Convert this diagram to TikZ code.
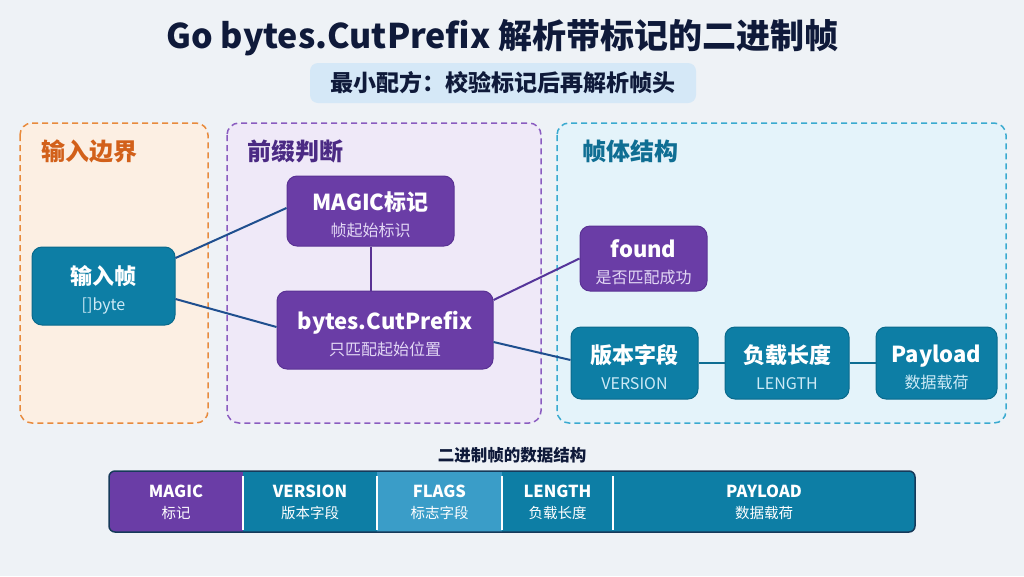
\documentclass[tikz,border=0pt]{standalone}
\usepackage{fontspec}
\setmainfont{Noto Sans CJK SC}
\usetikzlibrary{calc}
\definecolor{bgc}{HTML}{EEF2F6}
\definecolor{titlec}{HTML}{0F1A3A}
\definecolor{subbg}{HTML}{D5E8F7}
\definecolor{paF}{HTML}{FCEFE3}
\definecolor{paD}{HTML}{E88A3C}
\definecolor{paT}{HTML}{D2601A}
\definecolor{pbF}{HTML}{EFE9F8}
\definecolor{pbD}{HTML}{8A5CC0}
\definecolor{pbT}{HTML}{4B2A84}
\definecolor{pcF}{HTML}{E4F3FA}
\definecolor{pcD}{HTML}{3AAAD0}
\definecolor{pcT}{HTML}{0F6E93}
\definecolor{tealF}{HTML}{0D7EA5}
\definecolor{tealD}{HTML}{0A6A8C}
\definecolor{tealS}{HTML}{CDEAF6}
\definecolor{purF}{HTML}{6A3DA6}
\definecolor{purD}{HTML}{5A3294}
\definecolor{purS}{HTML}{E3D8F5}
\definecolor{flagF}{HTML}{3A9DC8}
\definecolor{navyL}{HTML}{1F4F8F}
\definecolor{purL}{HTML}{55359A}
\definecolor{tealL}{HTML}{0E6D92}
\definecolor{frameC}{HTML}{163A5A}
\newcommand\nttl[1]{{\fontsize{22}{26}\selectfont\bfseries #1}}
\tikzset{
  panel/.style={line width=1.5, dash pattern=on 6pt off 4pt, rounded corners=12},
  ptitle/.style={anchor=west, font=\fontsize{24}{28}\selectfont\bfseries, inner sep=0},
  ntext/.style={inner sep=0, align=center, text=white, font=\fontsize{16}{26}\selectfont, yshift=-4},
  tnode/.style={rounded corners=10, fill=tealF, draw=tealD, line width=1, inner sep=0},
  pnode/.style={rounded corners=10, fill=purF, draw=purD, line width=1, inner sep=0},
  conn/.style={line width=2},
  seg/.style={inner sep=0, minimum height=61, align=center, text=white,
    font=\fontsize{14.5}{21}\selectfont},
}
\newcommand\sttl[1]{{\fontsize{16.5}{21}\selectfont\bfseries #1}}
\begin{document}
\begin{tikzpicture}[x=1pt,y=-1pt]
\useasboundingbox (0,0) rectangle (1024,576);
\fill[bgc] (0,0) rectangle (1024,576);

% title
\node[text=titlec, font=\fontsize{34}{40}\selectfont\bfseries, inner sep=0] (title) at (502.5,38) {Go bytes.CutPrefix 解析带标记的二进制帧};
\node[fill=subbg, rounded corners=8, minimum width=386, minimum height=40, inner sep=0,
  text=titlec, font=\fontsize{23}{26}\selectfont\bfseries] (sub) at (503,83) {最小配方：校验标记后再解析帧头};

% panels
\draw[panel, draw=paD, fill=paF] (20,123) rectangle (208,423);
\draw[panel, draw=pbD, fill=pbF] (227,123) rectangle (541,423);
\draw[panel, draw=pcD, fill=pcF] (557,123) rectangle (1006,423);
\node[ptitle, text=paT] (ta) at (41,151) {输入边界};
\node[ptitle, text=pbT] (tb) at (247,151) {前缀判断};
\node[ptitle, text=pcT] (tc) at (582,151) {帧体结构};

% nodes
\node[tnode, minimum width=143, minimum height=78,
  label={[ntext]center:{\nttl{输入帧}\\\textcolor{tealS}{{[]}byte}}}] (in) at (103.5,286) {};
\node[pnode, minimum width=167, minimum height=70,
  label={[ntext]center:{\nttl{MAGIC标记}\\\textcolor{purS}{帧起始标识}}}] (magic) at (370.5,211) {};
\node[pnode, minimum width=216, minimum height=78,
  label={[ntext]center:{\nttl{bytes.CutPrefix}\\\textcolor{purS}{只匹配起始位置}}}] (cut) at (385,330) {};
\node[pnode, minimum width=127, minimum height=65,
  label={[ntext]center:{\nttl{found}\\\textcolor{purS}{是否匹配成功}}}] (found) at (643.5,258.5) {};
\node[tnode, minimum width=127, minimum height=72,
  label={[ntext]center:{\nttl{版本字段}\\\textcolor{tealS}{VERSION}}}] (ver) at (634.5,363) {};
\node[tnode, minimum width=124, minimum height=72,
  label={[ntext]center:{\nttl{负载长度}\\\textcolor{tealS}{LENGTH}}}] (len) at (787,363) {};
\node[tnode, minimum width=121, minimum height=72,
  label={[ntext]center:{\nttl{Payload}\\\textcolor{tealS}{数据载荷}}}] (pay) at (936.5,363) {};

% connectors
\draw[conn, navyL] ([yshift=28]in.east) -- ([yshift=3]magic.west);
\draw[conn, navyL] ([yshift=-13]in.east) -- ([yshift=3]cut.west);
\draw[conn, purD] (magic.south) -- (magic.south |- cut.north);
\draw[conn, purL] ([yshift=30]cut.east) -- (found.west);
\draw[conn, navyL] ([yshift=-12]cut.east) -- ([yshift=3]ver.west);
\draw[conn, tealL] (ver.east) -- (len.west);
\draw[conn, tealL] (len.east) -- (pay.west);

% data structure bar
\node[text=titlec, font=\fontsize{16.5}{20}\selectfont\bfseries, inner sep=0] (cap) at (512,455) {二进制帧的数据结构};
\begin{scope}
\clip[rounded corners=6] (109,471) rectangle (915,532);
\node[seg, fill=purF, minimum width=134] (s1) at (176,502) {\sttl{MAGIC}\\标记};
\node[seg, fill=tealF, minimum width=134] (s2) at (310,502) {\sttl{VERSION}\\版本字段};
\node[seg, fill=flagF, minimum width=125] (s3) at (439.5,502) {\sttl{FLAGS}\\标志字段};
\node[seg, fill=tealF, minimum width=111] (s4) at (557.5,502) {\sttl{LENGTH}\\负载长度};
\node[seg, fill=tealF, minimum width=302] (s5) at (764,502) {\sttl{PAYLOAD}\\数据载荷};
\end{scope}
\draw[frameC, line width=1.5, rounded corners=6] (109,471) rectangle (915,532);
\foreach \s in {s1,s2,s3,s4}{
  \draw[white, line width=2] ([yshift=-5]\s.north east) -- ([yshift=3]\s.south east);
}
\end{tikzpicture}
\end{document}
